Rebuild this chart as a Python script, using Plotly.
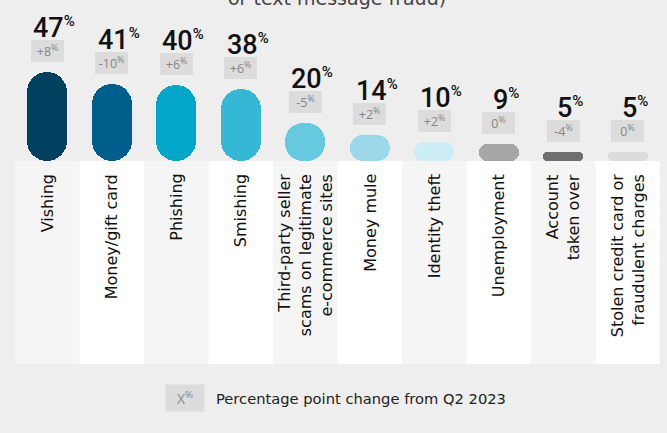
import plotly.graph_objects as go

# ---------------- data ----------------
categories = [
    "Vishing",
    "Money/gift card",
    "Phishing",
    "Smishing",
    "Third-party seller<br>scams on legitimate<br>e-commerce sites",
    "Money mule",
    "Identity theft",
    "Unemployment",
    "Account<br>taken over",
    "Stolen credit card or<br>fraudulent charges",
]
values = [47, 41, 40, 38, 20, 14, 10, 9, 5, 5]
changes = [8, -10, 6, 6, -5, 2, 2, 0, -4, 0]

bar_colors = ["#02405f", "#005e8c", "#02a6c9", "#35b8d6", "#66c9e0",
              "#9bd9ea", "#ccedf5", "#a6a6a6", "#6e6e6e", "#dcdcdc"]
panel_colors = ["#f5f5f5", "#ffffff"] * 5

# ---------------- layout constants ----------------
W, H = 667, 433
PX_PER_UNIT = 1.89
BASE_PX = 161          # pixel row of bar baseline (from top)
PANEL_BOTTOM_PX = 364
X_LEFT, X_RIGHT = 15, 660
COL_PX = (X_RIGHT - X_LEFT) / len(values)
BAR_W_PX = 40
BAR_W = BAR_W_PX / COL_PX

y_min = -(H - BASE_PX) / PX_PER_UNIT
y_max = BASE_PX / PX_PER_UNIT
panel_bottom = -(PANEL_BOTTOM_PX - BASE_PX) / PX_PER_UNIT

NUM_FONT = "Roboto"
BADGE_FONT = "Open Sans"
LBL_FONT = "DejaVu Sans"

fig = go.Figure()

# label panels
for i, pc in enumerate(panel_colors):
    fig.add_shape(type="rect", xref="x", yref="y",
                  x0=i - 0.5, x1=i + 0.5, y0=panel_bottom, y1=0,
                  fillcolor=pc, line=dict(width=0), layer="below")

# pill-shaped bars (explicit base -> rounded at both ends)
for i, (v, c) in enumerate(zip(values, bar_colors)):
    h_px = v * PX_PER_UNIT
    r = min(BAR_W_PX / 2, h_px / 2)
    fig.add_trace(go.Bar(x=[i], y=[v], base=[0], width=BAR_W,
                         marker=dict(color=c, line=dict(width=0), cornerradius=r),
                         hoverinfo="skip", showlegend=False))

annotations = []
for i, (v, d, cat) in enumerate(zip(values, changes, categories)):
    # value label
    annotations.append(dict(
        x=i, y=v, xref="x", yref="y", showarrow=False,
        text=f"{v}<sup><span style='font-size:15px'>%</span></sup>",
        font=dict(family=NUM_FONT, size=27, color="#111111", weight=500),
        xanchor="center", yanchor="bottom", xshift=7, yshift=27, borderpad=0))
    # change badge
    sign = "+" if d > 0 else ""
    annotations.append(dict(
        x=i, y=v, xref="x", yref="y", showarrow=False,
        text=f"{sign}{d}<sup>%</sup>",
        font=dict(family=BADGE_FONT, size=12.5, color="#858585"),
        bgcolor="#dcdcdc", width=33, height=22, borderpad=0, borderwidth=0,
        xanchor="center", yanchor="bottom", yshift=10))
    # category label
    annotations.append(dict(
        x=i, y=0, xref="x", yref="y", showarrow=False,
        text=cat, textangle=-90, align="right",
        font=dict(family=LBL_FONT, size=16, color="#111111"),
        xanchor="center", yanchor="top", yshift=-12, borderpad=0))

# cut-off title line at top
annotations.append(dict(
    x=337 / W, y=1, xref="paper", yref="paper", showarrow=False,
    text="or text message fraud)",
    font=dict(family=LBL_FONT, size=19, color="#444444"),
    xanchor="center", yanchor="bottom", yshift=-10, borderpad=0))

# legend key
annotations.append(dict(
    x=185 / W, y=1 - 398 / H, xref="paper", yref="paper", showarrow=False,
    text="X<sup>%</sup>",
    font=dict(family=BADGE_FONT, size=14, color="#8a8a8a"),
    bgcolor="#dcdcdc", width=38, height=26, borderpad=0,
    xanchor="center", yanchor="middle"))
annotations.append(dict(
    x=215 / W, y=1 - 398 / H, xref="paper", yref="paper", showarrow=False,
    text="Percentage point change from Q2 2023",
    font=dict(family=LBL_FONT, size=14.7, color="#222222"),
    xanchor="left", yanchor="middle", borderpad=0))

fig.update_layout(
    width=W, height=H,
    margin=dict(l=0, r=0, t=0, b=0),
    paper_bgcolor="#eeeeee", plot_bgcolor="rgba(0,0,0,0)",
    barmode="overlay", bargap=0,
    showlegend=False,
    annotations=annotations,
    xaxis=dict(range=[-0.5, len(values) - 0.5],
               domain=[X_LEFT / W, X_RIGHT / W],
               visible=False, fixedrange=True),
    yaxis=dict(range=[y_min, y_max], domain=[0, 1],
               visible=False, fixedrange=True),
)

fig.write_html("out.html",
               config={"displayModeBar": False},
               post_script="document.body.style.margin='0';"
                           "document.body.style.overflow='hidden';"
                           "document.body.style.background='#eeeeee';")
